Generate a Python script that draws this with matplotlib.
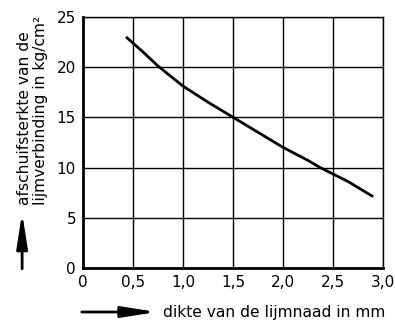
import matplotlib
matplotlib.use("Agg")
import matplotlib.pyplot as plt

thickness = [0.43, 0.6, 0.75, 1.0, 1.25, 1.5, 1.75, 2.0, 2.25, 2.37, 2.65, 2.9]
strength = [23.0, 21.5, 20.1, 18.1, 16.5, 15.0, 13.5, 12.0, 10.7, 10.0, 8.6, 7.1]
xticks = [0, 0.5, 1.0, 1.5, 2.0, 2.5, 3.0]
xticklabels = ["0", "0,5", "1,0", "1,5", "2,0", "2,5", "3,0"]
yticks = [0, 5, 10, 15, 20, 25]
yticklabels = ["0", "5", "10", "15", "20", "25"]

plt.rcParams['font.family'] = ['DejaVu Sans']

fig = plt.figure(figsize=(3.95, 3.2), dpi=100)
ax = fig.add_axes([0.210, 0.1625, 0.760, 0.785])

ax.plot(thickness, strength, color='black', lw=2.0, solid_capstyle='butt',
        solid_joinstyle='round')
ax.set_xlim(0, 3.0)
ax.set_ylim(0, 25)
ax.set_xticks(xticks)
ax.set_xticklabels(xticklabels, fontsize=11)
ax.set_yticks(yticks)
ax.set_yticklabels(yticklabels, fontsize=11)
ax.grid(True, color='black', lw=1.0)
ax.tick_params(length=0, pad=5)
for s in ['left', 'bottom']:
    ax.spines[s].set_linewidth(2.0)
for s in ['right', 'top']:
    ax.spines[s].set_linewidth(1.0)

fig.text(0.083, 0.36, "afschuifsterkte van de\nlijmverbinding in kg/cm²",
         rotation=90, ha='center', va='bottom', multialignment='left',
         fontsize=11.2, linespacing=1.1)

style = '-|>,head_length=2.1,head_width=0.33'
ax.annotate("", xy=(0.056, 0.335), xycoords='figure fraction',
            xytext=(0.056, 0.16), textcoords='figure fraction',
            arrowprops=dict(arrowstyle=style, color='black', lw=2,
                            shrinkA=0, shrinkB=0))
ax.annotate("", xy=(0.397, 0.025), xycoords='figure fraction',
            xytext=(0.207, 0.025), textcoords='figure fraction',
            arrowprops=dict(arrowstyle=style, color='black', lw=2,
                            shrinkA=0, shrinkB=0))
fig.text(0.413, 0.025, "dikte van de lijmnaad in mm", ha='left', va='center',
         fontsize=11.2)

fig.savefig("out.png", dpi=100)
